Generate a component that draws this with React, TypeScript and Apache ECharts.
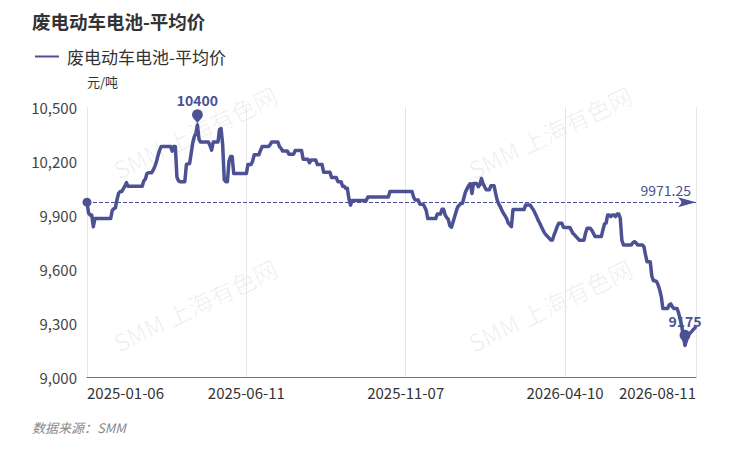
import React, { useEffect, useRef } from 'react';
import * as echarts from 'echarts';

const TITLE = '废电动车电池-平均价';
const SERIES_NAME = '废电动车电池-平均价';
const UNIT = '元/吨';
const SOURCE = '数据来源：SMM';
const WATERMARK = 'SMM 上海有色网';

const START_DATE = '2025-01-06';
const END_DATE = '2026-08-11';
// non-trading weekdays (Chinese public holidays)
const HOLIDAYS = [
  '2025-01-28', '2025-01-29', '2025-01-30', '2025-01-31', '2025-02-03', '2025-02-04',
  '2025-04-04', '2025-05-01', '2025-05-02', '2025-05-05', '2025-06-02',
  '2025-10-01', '2025-10-02', '2025-10-03', '2025-10-06', '2025-10-07', '2025-10-08',
  '2026-01-01', '2026-01-02',
  '2026-02-16', '2026-02-17', '2026-02-18', '2026-02-19', '2026-02-20', '2026-02-23',
  '2026-04-06', '2026-05-01', '2026-05-04', '2026-05-05', '2026-06-19',
];

// [first trading-day index, price]; the price holds until the next entry
const PRICE_STEPS: [number, number][] = [
  [0, 9975], [1, 9910], [2, 9900], [4, 9835], [5, 9880], [16, 9925], [17, 9935], [18, 9940],
  [19, 9985], [20, 10020], [21, 10030], [23, 10045], [24, 10060], [25, 10080], [26, 10060],
  [36, 10090], [37, 10100], [38, 10130], [39, 10135], [42, 10150], [43, 10170], [44, 10195],
  [45, 10230], [46, 10260], [47, 10280], [54, 10255], [55, 10280], [57, 10110], [58, 10090],
  [59, 10085], [63, 10180], [64, 10185], [66, 10240], [67, 10300], [68, 10335], [69, 10355],
  [70, 10400], [71, 10320], [72, 10305], [78, 10285], [79, 10260], [80, 10305], [84, 10375],
  [85, 10380], [86, 10290], [87, 10095], [88, 10085], [90, 10200], [91, 10225], [93, 10130],
  [102, 10180], [105, 10200], [106, 10235], [110, 10260], [111, 10280], [116, 10290],
  [117, 10305], [122, 10280], [123, 10270], [124, 10255], [128, 10238], [132, 10258],
  [137, 10210], [141, 10190], [142, 10205], [146, 10180], [150, 10137], [155, 10108],
  [159, 10085], [162, 10060], [164, 10048], [166, 9990], [167, 9955], [168, 9980],
  [178, 10000], [192, 10030], [207, 10000], [208, 9983], [211, 9960], [214, 9945],
  [215, 9925], [216, 9880], [222, 9905], [225, 9932], [227, 9900], [228, 9885], [229, 9875],
  [230, 9840], [231, 9832], [232, 9860], [233, 9890], [234, 9920], [235, 9945], [236, 9955],
  [237, 9965], [239, 10000], [240, 10030], [241, 10048], [242, 10065], [243, 10075],
  [244, 10020], [245, 10075], [248, 10057], [249, 10067], [250, 10103], [251, 10075],
  [252, 10057], [253, 10040], [256, 10062], [259, 10020], [260, 9983], [261, 9960],
  [262, 9946], [263, 9925], [264, 9909], [265, 9895], [266, 9880], [267, 9855], [268, 9845],
  [269, 9835], [270, 9930], [278, 9955], [282, 9940], [283, 9928], [284, 9910], [285, 9891],
  [286, 9870], [287, 9854], [288, 9835], [289, 9817], [290, 9800], [291, 9789], [292, 9780],
  [293, 9770], [294, 9761], [296, 9789], [297, 9810], [298, 9835], [299, 9854], [302, 9831],
  [307, 9815], [308, 9798], [309, 9790], [310, 9780], [311, 9770], [312, 9760], [316, 9800],
  [317, 9826], [320, 9815], [321, 9798], [322, 9780], [327, 9817], [328, 9850], [329, 9855],
  [330, 9900], [332, 9891], [333, 9900], [335, 9891], [336, 9906], [338, 9882], [339, 9760],
  [340, 9733], [346, 9746], [347, 9752], [348, 9745], [349, 9733], [353, 9724], [354, 9678],
  [355, 9640], [358, 9560], [359, 9535], [361, 9530], [362, 9511], [363, 9483], [364, 9446],
  [365, 9381], [369, 9400], [370, 9406], [371, 9390], [372, 9381], [375, 9354], [376, 9320],
  [377, 9280], [378, 9224], [379, 9175], [380, 9206], [381, 9225], [382, 9243], [383, 9250],
  [384, 9261], [385, 9270], [386, 9280],
];

const AVERAGE = 9971.25;
const Y_MIN = 9000;
const Y_MAX = 10500;
const Y_STEP = 300;
const LABEL_SKIP = 100;

const LINE_COLOR = '#4c5193';
const FONT = "'Microsoft YaHei', 'Noto Sans CJK SC', sans-serif";
// narrow arrow whose tip is the centre of a padded 36x36 box
const ARROW_PATH = 'path://M-18,-18 M18,18 M0,0 L5,18 L0,14 L-5,18 Z';
const ARROW_BOX = 36;
const START_DOT = 9;

function buildDates(): string[] {
  const out: string[] = [];
  const hol = new Set(HOLIDAYS);
  const d = new Date(START_DATE + 'T00:00:00Z');
  const end = new Date(END_DATE + 'T00:00:00Z');
  while (d.getTime() <= end.getTime()) {
    const wd = d.getUTCDay();
    const s = d.toISOString().slice(0, 10);
    if (wd !== 0 && wd !== 6 && !hol.has(s)) out.push(s);
    d.setUTCDate(d.getUTCDate() + 1);
  }
  return out;
}

function buildValues(n: number): number[] {
  const vals: number[] = [];
  for (let i = 0; i < n; i++) {
    let v = PRICE_STEPS[0][1];
    for (const [s, p] of PRICE_STEPS) {
      if (s <= i) v = p;
      else break;
    }
    vals.push(v);
  }
  return vals;
}

const WATERMARK_SPOTS: [number, number][] = [
  [195, 132],
  [550, 132],
  [195, 305],
  [550, 305],
];

export default function App() {
  const ref = useRef<HTMLDivElement>(null);
  useEffect(() => {
    if (!ref.current) return;
    const chart = echarts.init(ref.current, undefined, { renderer: 'svg' });
    const dates = buildDates();
    const values = buildValues(dates.length);
    chart.setOption({
      animation: false,
      textStyle: { fontFamily: FONT },
      title: {
        text: TITLE,
        left: 32,
        top: 12,
        padding: 0,
        textStyle: { fontSize: 18.5, fontWeight: 'bold', color: '#333', fontFamily: FONT },
      },
      legend: {
        left: 35,
        top: 48,
        padding: 0,
        itemWidth: 24,
        itemHeight: 2,
        textStyle: { fontSize: 17, color: '#333', fontFamily: FONT, padding: [0, 0, 0, 3] },
        data: [{ name: SERIES_NAME, icon: 'rect' }],
      },
      grid: { left: 87, right: 50, top: 107, bottom: 81, outerBoundsMode: 'none' } as any,
      xAxis: {
        type: 'category',
        data: dates,
        boundaryGap: false,
        axisLine: { show: true, lineStyle: { color: '#6b7090', width: 1 } },
        axisTick: { show: false },
        axisLabel: {
          interval: LABEL_SKIP,
          showMinLabel: true,
          showMaxLabel: true,
          alignMinLabel: 'left',
          alignMaxLabel: 'right',
          color: '#333',
          fontSize: 15,
          margin: 8,
          fontFamily: FONT,
        },
        splitLine: { show: true, lineStyle: { color: '#e6e6e6', width: 1 } },
      },
      yAxis: {
        type: 'value',
        min: Y_MIN,
        max: Y_MAX,
        interval: Y_STEP,
        name: UNIT,
        nameGap: 19,
        nameTextStyle: { align: 'left', color: '#333', fontSize: 13, fontFamily: FONT },
        axisLine: { show: false },
        axisTick: { show: false },
        splitLine: { show: false },
        axisLabel: {
          color: '#444',
          fontSize: 15,
          margin: 10,
          fontFamily: FONT,
          formatter: (v: number) => v.toLocaleString('en-US'),
        },
      },
      graphic: [
        ...WATERMARK_SPOTS.map(([x, y]) => ({
          type: 'text',
          x,
          y,
          rotation: 0.45,
          silent: true,
          z: 0,
          style: {
            text: WATERMARK,
            fontSize: 24,
            fontFamily: FONT,
            fill: 'rgba(0,0,0,0.06)',
            align: 'center',
            verticalAlign: 'middle',
          },
        })),
        {
          type: 'text',
          left: 32,
          top: 421,
          style: {
            text: SOURCE,
            fontSize: 13,
            fontStyle: 'italic',
            fontFamily: FONT,
            fill: '#888',
          },
        },
      ],
      series: [
        {
          name: SERIES_NAME,
          type: 'line',
          data: values,
          symbol: 'none',
          showSymbol: false,
          smooth: false,
          lineStyle: { color: LINE_COLOR, width: 3.5, join: 'round' },
          itemStyle: { color: LINE_COLOR },
          markPoint: {
            symbol: 'pin',
            symbolSize: 18,
            itemStyle: { color: LINE_COLOR },
            label: {
              show: true,
              position: 'top',
              distance: 2,
              color: LINE_COLOR,
              fontWeight: 'bold',
              fontSize: 14,
              fontFamily: FONT,
            },
            data: [
              { type: 'max', name: 'max' },
              { type: 'min', name: 'min' },
            ],
          },
          markLine: {
            silent: true,
            symbol: ['circle', ARROW_PATH],
            lineStyle: { color: LINE_COLOR, type: 'dashed', width: 1 },
            label: {
              show: true,
              position: 'insideEndTop',
              color: LINE_COLOR,
              fontSize: 14,
              fontFamily: FONT,
              formatter: () => String(AVERAGE),
            },
            data: [
              [
                { coord: [0, AVERAGE], symbol: 'circle', symbolSize: START_DOT },
                { coord: [dates.length - 1, AVERAGE], symbol: ARROW_PATH, symbolSize: ARROW_BOX },
              ],
            ],
          },
        },
      ],
    });
    return () => chart.dispose();
  }, []);
  return (
    <div
      ref={ref}
      style={{ position: 'fixed', left: 0, top: 0, width: 746, height: 458, background: '#fff' }}
    />
  );
}
